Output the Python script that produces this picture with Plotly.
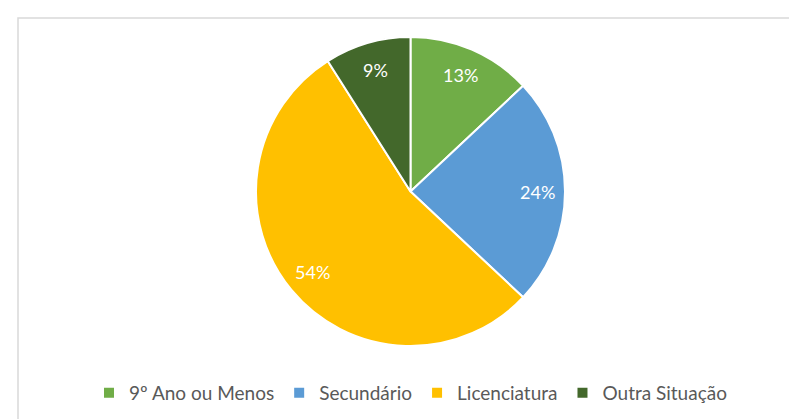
import math
import plotly.graph_objects as go

labels = ["9º Ano ou Menos", "Secundário", "Licenciatura", "Outra Situação"]
values = [13, 24, 54, 9]
colors = ["#70AD47", "#5B9BD5", "#FFC000", "#43682B"]

W, H = 797, 419
ml, mr, mt, mb = 15, 7, 29, 81
pw, ph = W - ml - mr, H - mt - mb
R = min(pw, ph) / 2
label_frac = 0.82

fig = go.Figure(go.Pie(
    labels=labels, values=values, sort=False, direction="clockwise", rotation=0,
    marker=dict(colors=colors, line=dict(color="white", width=2)),
    textinfo="none",
    hoverinfo="label+percent",
))

# percentage labels placed along each slice's mid-angle
total = sum(values)
annotations = []
cum = 0
for v in values:
    mid = (cum + v / 2) / total * 2 * math.pi
    cum += v
    dx = math.sin(mid) * R * label_frac
    dy = math.cos(mid) * R * label_frac
    annotations.append(dict(
        x=0.5 + dx / pw, y=0.5 + dy / ph, xref="paper", yref="paper",
        xanchor="center", yanchor="middle",
        text=f"{round(v / total * 100)}%", showarrow=False,
        font=dict(color="white", size=18, family="Lato"),
    ))

fig.update_layout(
    width=W, height=H,
    margin=dict(l=ml, r=mr, t=mt, b=mb),
    paper_bgcolor="white",
    font=dict(family="Lato", color="#595959", size=19),
    legend=dict(orientation="h", x=0.5, xanchor="center", y=-47 / ph, yanchor="middle",
                font=dict(size=19, color="#595959"), itemwidth=30, traceorder="normal"),
    annotations=annotations,
    shapes=[dict(type="rect", xref="paper", yref="paper",
                 x0=(10 - ml) / pw, x1=(805 - ml) / pw,
                 y0=(H - mb - 430) / ph, y1=(H - mb - 10) / ph,
                 line=dict(color="#D9D9D9", width=1.5), fillcolor="rgba(0,0,0,0)")],
)
fig.write_html("out.html")
